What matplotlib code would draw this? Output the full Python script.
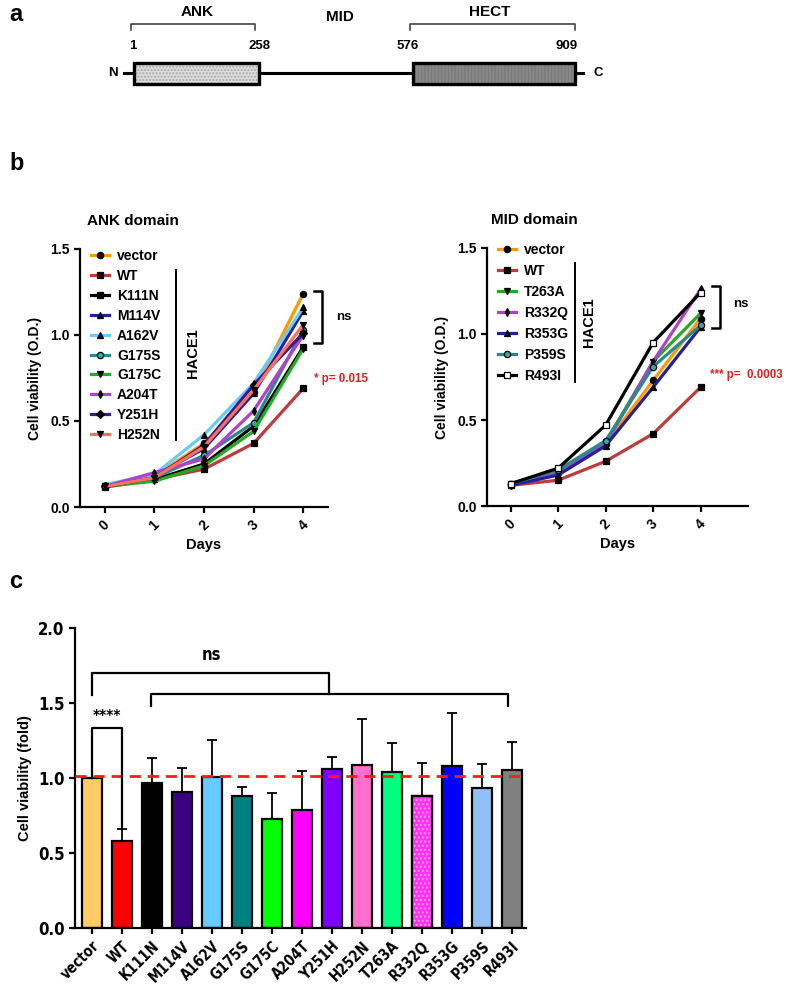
import numpy as np
import matplotlib
matplotlib.use('Agg')
import matplotlib.pyplot as plt
from matplotlib.patches import Rectangle

plt.rcParams['font.family'] = ['Liberation Sans', 'DejaVu Sans']
plt.rcParams['font.weight'] = 'bold'
plt.rcParams['axes.labelweight'] = 'bold'
plt.rcParams['axes.linewidth'] = 1.6
plt.rcParams['xtick.major.width'] = 1.6
plt.rcParams['ytick.major.width'] = 1.6

# ---- panel a: HACE1 domains ----
domain_names = ['ANK', 'HECT']
domain_start = [1, 576]
domain_end = [258, 909]

# ---- panel b: growth curves ----
days = [0, 1, 2, 3, 4]

ank_labels = ['vector', 'WT', 'K111N', 'M114V', 'A162V', 'G175S', 'G175C', 'A204T', 'Y251H', 'H252N']
ank_values = [
    [0.12, 0.18, 0.37, 0.67, 1.24],
    [0.115, 0.16, 0.22, 0.37, 0.69],
    [0.12, 0.16, 0.25, 0.47, 0.93],
    [0.12, 0.18, 0.34, 0.66, 1.14],
    [0.13, 0.19, 0.42, 0.72, 1.16],
    [0.12, 0.17, 0.30, 0.49, 1.03],
    [0.12, 0.15, 0.24, 0.44, 0.92],
    [0.12, 0.20, 0.28, 0.56, 1.00],
    [0.12, 0.17, 0.36, 0.71, 1.01],
    [0.12, 0.17, 0.35, 0.68, 1.06],
]
ank_colors = ['#ff9900', '#c0393b', '#000000', '#2020a0', '#66ccff', '#2a8a8a', '#22aa22', '#b040d0', '#3a1a80', '#ff6f61']
ank_markers = ['o', 's', 's', '^', '^', 'o', 'v', 'd', 'D', 'v']

mid_labels = ['vector', 'WT', 'T263A', 'R332Q', 'R353G', 'P359S', 'R493I']
mid_values = [
    [0.12, 0.19, 0.36, 0.73, 1.09],
    [0.12, 0.15, 0.26, 0.42, 0.69],
    [0.13, 0.20, 0.37, 0.84, 1.12],
    [0.12, 0.19, 0.36, 0.84, 1.26],
    [0.12, 0.18, 0.35, 0.69, 1.04],
    [0.13, 0.21, 0.38, 0.81, 1.05],
    [0.13, 0.22, 0.47, 0.95, 1.24],
]
mid_colors = ['#ff9900', '#c0393b', '#22aa22', '#b040d0', '#2020a0', '#2a8a8a', '#000000']
mid_markers = ['o', 's', 'v', 'd', '^', 'o', 's']

# ---- panel c: bars ----
bar_labels = ['vector', 'WT', 'K111N', 'M114V', 'A162V', 'G175S', 'G175C', 'A204T',
              'Y251H', 'H252N', 'T263A', 'R332Q', 'R353G', 'P359S', 'R493I']
bar_means = [1.0, 0.58, 0.97, 0.906, 1.005, 0.883, 0.728, 0.79,
             1.061, 1.09, 1.043, 0.883, 1.078, 0.936, 1.052]
bar_err = [0.0, 0.08, 0.164, 0.164, 0.248, 0.054, 0.169, 0.26,
           0.082, 0.30, 0.19, 0.215, 0.355, 0.158, 0.188]
bar_colors = ['#ffcc66', '#ff0000', '#000000', '#3d0080', '#66ccff', '#008080', '#00ff00', '#ff00ff',
              '#8000ff', '#ff6fcf', '#00ff80', '#ff33ee', '#0000ff', '#8fbff5', '#808080']

fig = plt.figure(figsize=(7.87, 9.86), dpi=100)

# panel labels
fig.text(0.012, 0.985, 'a', fontsize=17, va='center')
fig.text(0.012, 0.834, 'b', fontsize=17, va='center')
fig.text(0.012, 0.410, 'c', fontsize=17, va='center')

# ---------------- panel a ----------------
axa = fig.add_axes([0, 1 - 110 / 986, 1, 110 / 986])
axa.set_xlim(-276.3, 1347.4)
axa.set_ylim(110, 0)
axa.axis('off')
axa.plot([-20, 927], [73, 73], color='black', lw=2.2, zorder=1)
fills = ['#dcdcdc', '#8a8a8a']
hatches = ['.....', '|||||']
hcols = ['#a8a8a8', '#7a7a7a']
for s, e, fc, h, hc in zip(domain_start, domain_end, fills, hatches, hcols):
    axa.add_patch(Rectangle((s, 63), e - s, 20.5, facecolor=fc, edgecolor=hc, hatch=h, lw=0, zorder=2))
    axa.add_patch(Rectangle((s, 63), e - s, 20.5, facecolor='none', edgecolor='black', lw=2.4, zorder=3))
# brackets above domains
for s, e in [(-6, 250), (570, 910)]:
    axa.plot([s, s, e, e], [30, 24, 24, 30], color='#333333', lw=1.1)
axa.text(130, 12, 'ANK', ha='center', va='center', fontsize=11)
axa.text(425, 17, 'MID', ha='center', va='center', fontsize=11)
axa.text(735, 12, 'HECT', ha='center', va='center', fontsize=11)
for v, off in zip([domain_start[0], domain_end[0], domain_start[1], domain_end[1]], [-3, 2, -11, -16]):
    axa.text(v + off, 46, str(v), ha='center', va='center', fontsize=9.5)
axa.text(-43, 73, 'N', ha='center', va='center', fontsize=9.5)
axa.text(957, 73, 'C', ha='center', va='center', fontsize=9.5)


# ---------------- panel b ----------------
def growth_panel(ax, labels, values, colors, markers, title, xmax, leg, vline, hace, sig):
    for lab, vals, c, m in zip(labels, values, colors, markers):
        fc = 'black'
        if lab in ('G175S', 'P359S'):
            fc = '#3aa6a6'
        if lab == 'R493I':
            fc = 'white'
        ms = 4.5 if m in ('o', 's', 'v', '^', 'D') else 4
        ax.plot(days, vals, color=c, lw=2.3, marker=m, ms=ms, mfc=fc, mec='black', mew=0.9, label=lab)
    ax.set_xlim(-0.5, xmax)
    ax.set_ylim(0, 1.5)
    ax.set_yticks([0, 0.5, 1.0, 1.5])
    ax.set_yticklabels(['0.0', '0.5', '1.0', '1.5'], fontsize=10)
    ax.set_xticks(days)
    ax.set_xticklabels([str(d) for d in days], rotation=45, fontsize=10)
    ax.tick_params(length=4)
    for sp in ['top', 'right']:
        ax.spines[sp].set_visible(False)
    ax.set_ylabel('Cell viability (O.D.)', fontsize=10, labelpad=6)
    ax.set_xlabel('Days', fontsize=10.5, labelpad=4)
    ax.text(title[1], 1.11, title[0], transform=ax.transAxes, ha='center', va='center', fontsize=11)
    ax.legend(loc='upper left', bbox_to_anchor=(leg[0], leg[1]), frameon=False, fontsize=10,
              handlelength=1.3, handletextpad=0.6, labelspacing=leg[2], borderaxespad=0)
    ax.plot([vline[0], vline[0]], [vline[1], vline[2]], transform=ax.transAxes, color='black', lw=1.4, clip_on=False)
    ax.text(hace[0], hace[1], 'HACE1', transform=ax.transAxes, rotation=90, ha='center', va='center', fontsize=10.5)
    # significance bracket
    bx, arm, top, bot, nsx, nsy, ptx, pty, ptxt = sig
    ax.plot([arm, bx, bx, arm], [top, top, bot, bot], color='black', lw=1.8, clip_on=False)
    ax.text(nsx, nsy, 'ns', ha='center', va='center', fontsize=9.5, clip_on=False)
    ax.text(ptx, pty, ptxt, ha='left', va='center', fontsize=8.3, color='#dd2222', clip_on=False)


ax1 = fig.add_axes([0.1017, 0.4858, 0.3151, 0.2617])
growth_panel(ax1, ank_labels, ank_values, ank_colors, ank_markers, ('ANK domain', 0.214), 4.5,
             (0.02, 1.02, 0.42), (0.387, 0.919, 0.26), (0.456, 0.597),
             (4.38, 4.22, 1.253, 0.952, 4.82, 1.107, 4.22, 0.742, '* p= 0.015'))

ax2 = fig.add_axes([0.6188, 0.4868, 0.3316, 0.2617])
growth_panel(ax2, mid_labels, mid_values, mid_colors, mid_markers, ('MID domain', 0.18), 5.0,
             (0.02, 1.04, 0.5), (0.337, 0.942, 0.481), (0.391, 0.714),
             (4.42, 4.25, 1.279, 1.037, 4.84, 1.176, 4.2, 0.76, '*** p=  0.0003'))

# ---------------- panel c ----------------
narrow = dict(family='DejaVu Sans', fontstretch='condensed')
axc = fig.add_axes([0.0953, 0.0588, 0.573, 0.3043])
x = np.arange(len(bar_labels))
axc.bar(x, bar_means, width=0.67, color=bar_colors, edgecolor='black', lw=1.6, zorder=2)
# dotted pattern for R332Q
i_r = bar_labels.index('R332Q')
axc.bar(x[i_r], bar_means[i_r], width=0.67, color='#ff33ee', edgecolor='#ff99f5', hatch='....', lw=0, zorder=2.5)
axc.bar(x[i_r], bar_means[i_r], width=0.67, color='none', edgecolor='black', lw=1.6, zorder=2.6)
axc.errorbar(x, bar_means, yerr=[np.zeros(len(x)), bar_err], fmt='none', ecolor='black',
             elinewidth=1.3, capsize=3.5, capthick=1.3, zorder=1)
axc.axhline(1.014, color='#ff1a1a', lw=2, ls=(0, (4, 2.5)), zorder=3)
axc.set_xlim(-0.57, 14.47)
axc.set_ylim(0, 2.0)
axc.set_yticks([0, 0.5, 1.0, 1.5, 2.0])
axc.set_yticklabels(['0.0', '0.5', '1.0', '1.5', '2.0'], fontsize=12, **narrow)
axc.set_xticks(x)
axc.set_xticklabels(bar_labels, rotation=45, ha='right', va='top', rotation_mode='anchor',
                    fontsize=10.5, **narrow)
axc.tick_params(length=4)
for sp in ['top', 'right']:
    axc.spines[sp].set_visible(False)
axc.set_ylabel('Cell viability (fold)', fontsize=10.5, labelpad=4)
# **** bracket vector vs WT
axc.plot([0, 0, 1, 1], [1.0, 1.331, 1.331, 0.66], color='black', lw=1.6, zorder=4)
axc.text(0.5, 1.41, '****', ha='center', va='center', fontsize=11, **narrow)
# ns brackets
axc.plot([0, 0, 7.9, 7.9], [1.552, 1.697, 1.697, 1.557], color='black', lw=1.6)
axc.plot([1.95, 1.95, 13.87, 13.87], [1.48, 1.557, 1.557, 1.48], color='black', lw=1.6)
axc.text(3.97, 1.818, 'ns', ha='center', va='center', fontsize=12, **narrow)

fig.savefig('out.png', dpi=100)
